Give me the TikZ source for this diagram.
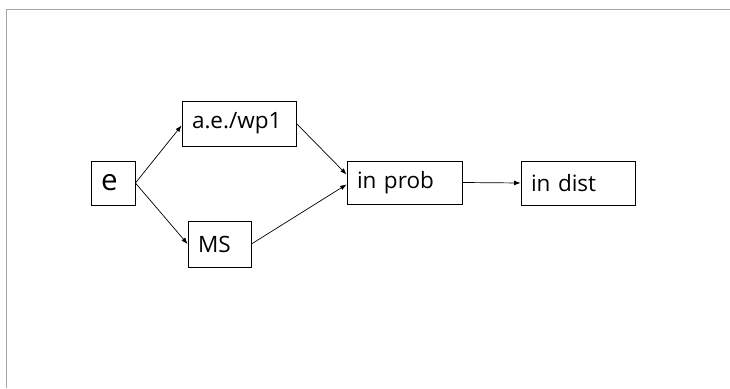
\documentclass[tikz,border=0pt]{standalone}
\usepackage{fontspec}
\setmainfont{Open Sans}
\usetikzlibrary{arrows.meta}
\tikzset{
  stage/.style={draw=black,line width=0.6pt,inner xsep=0.25cm,inner ysep=0pt,align=left,font=\fontsize{16}{19}\selectfont},
  link/.style={->,line width=0.5pt},
}
\begin{document}
\begin{tikzpicture}[>={Latex[length=1.6mm,width=1.2mm]}]
\useasboundingbox (0,0) rectangle (18.25,9.7);
% Slide frame
\draw[black!35,line width=0.6pt] (0.15,0) -- (0.15,9.475) -- (18.25,9.475);
% Start
\draw (2.825,5.125) node(e)[stage,text width=0.6cm,minimum height=1.1cm,font=\fontsize{21}{24}\selectfont] {e};
% Middle column
\draw (5.975,6.6125) node(aewp)[stage,text width=2.35cm,minimum height=1.125cm] {a.e./wp1};
\draw (5.4875,3.6) node(ms)[stage,text width=1.075cm,minimum height=1.15cm] {MS};
% Right column
\draw (10.1125,5.1375) node(prob)[stage,text width=2.375cm,minimum height=1.075cm] {in prob};
\draw (14.45,5.125) node(dist)[stage,text width=2.35cm,minimum height=1.1cm] {in dist};
% Arrows from e
\draw[link] (e.east) -- ([yshift=-0.05cm]aewp.west);
\draw[link] (e.east) -- (ms.west);
% Arrows into in prob
\draw[link] (aewp.east) -- ([yshift=0.2cm]prob.west);
\draw[link] (ms.east) -- ([yshift=-0.05cm]prob.west);
% Arrow into in dist
\draw[link] (prob.east) -- (dist.west);
\end{tikzpicture}
\end{document}
